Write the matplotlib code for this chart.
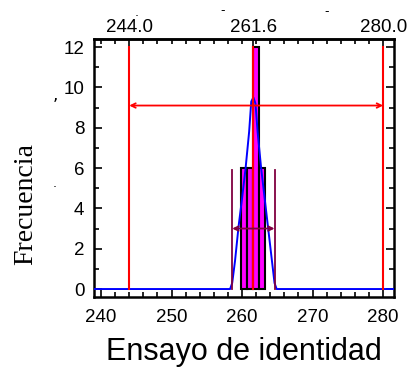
import matplotlib
matplotlib.use("Agg")
from matplotlib import pyplot as plt
from matplotlib.ticker import MultipleLocator, FixedLocator
import numpy as np

# Histogram bins (edges) and counts
bin_edges = [259.8, 260.65, 261.5, 262.4, 263.3]
counts = [6, 6, 12, 6]

# Fitted curve
curve_x = [239.0, 258.3, 258.6, 259.0, 259.5, 260.0, 260.5, 261.0, 261.3, 261.6,
           261.9, 262.2, 262.7, 263.2, 263.7, 264.2, 264.6, 264.9, 281.5]
curve_y = [0.0, 0.0, 0.3, 1.4, 3.1, 4.5, 6.0, 7.8, 9.3, 9.5,
           9.2, 7.8, 6.0, 4.5, 3.0, 1.5, 0.3, 0.0, 0.0]

# limits / centre (red) and interval (purple)
spec_low, spec_mid, spec_high = 244.0, 261.6, 280.0
spec_arrow_y = 9.1
ci_low, ci_high = 258.6, 264.6
ci_top = 5.9
ci_arrow_y = 3.0

top_labels = ["244.0", "261.6", "280.0"]

fig = plt.figure(figsize=(4.09, 3.71), dpi=100)
ax = fig.add_axes([0.2298, 0.2003, 0.7328, 0.6946])

ax.bar(bin_edges[:-1], counts, width=np.diff(bin_edges), align="edge",
       color="#ff00ff", edgecolor="black", linewidth=1.5, zorder=2)
ax.plot(curve_x, curve_y, color="#0000ff", lw=1.4, zorder=3)

for xv in [spec_low, spec_mid, spec_high]:
    ax.plot([xv, xv], [0, 12], color="#ff0000", lw=1.5, zorder=4)
ax.annotate("", xy=(spec_low, spec_arrow_y), xytext=(spec_high, spec_arrow_y),
            arrowprops=dict(arrowstyle="<->", color="#ff0000", lw=1.3,
                            mutation_scale=8, shrinkA=0, shrinkB=0), zorder=4)

purple = "#800040"
for xv in [ci_low, ci_high]:
    ax.plot([xv, xv], [0, ci_top], color=purple, lw=1.3, zorder=4)
ax.annotate("", xy=(ci_low, ci_arrow_y), xytext=(ci_high, ci_arrow_y),
            arrowprops=dict(arrowstyle="<->", color=purple, lw=1.3,
                            mutation_scale=8, shrinkA=0, shrinkB=0), zorder=5)

ax.set_xlim(239.0, 281.5)
ax.set_ylim(-0.38, 12.4)

tick_font = dict(family="Liberation Sans", size=13.5)
ax.xaxis.set_major_locator(MultipleLocator(10))
ax.xaxis.set_minor_locator(MultipleLocator(2))
ax.yaxis.set_major_locator(MultipleLocator(2))
ax.yaxis.set_minor_locator(MultipleLocator(1))
ax.tick_params(which="both", direction="in", right=True, width=1.2, color="black")
ax.tick_params(which="major", length=6)
ax.tick_params(which="minor", length=3.5)
ax.tick_params(axis="x", pad=9)
ax.tick_params(axis="y", pad=7)
for lab in ax.get_xticklabels() + ax.get_yticklabels():
    lab.set_fontfamily("Liberation Sans")
    lab.set_fontsize(13.5)

top = ax.secondary_xaxis("top")
top.xaxis.set_major_locator(FixedLocator([spec_low, spec_mid, spec_high]))
top.xaxis.set_minor_locator(MultipleLocator(2))
top.set_xticklabels(top_labels, **tick_font)
top.tick_params(which="both", direction="in", width=1.2, pad=2)
top.tick_params(which="major", length=6)
top.tick_params(which="minor", length=3.5)
top.spines["top"].set_linewidth(1.8)

for s in ax.spines.values():
    s.set_linewidth(1.8)

ax.set_xlabel("Ensayo de identidad", family="Liberation Sans", size=22)
ax.xaxis.set_label_coords(0.5, -0.155)
ax.set_ylabel("Frecuencia", family="Liberation Serif", size=20)
ax.yaxis.set_label_coords(-0.185, 0.36)

# small stray marks seen in the original
fig.text(137 / 409, 1 - 12 / 371, ".", size=9, ha="center", va="center")
fig.text(223 / 409, 1 - 11 / 371, "-", size=9, ha="center", va="center")
fig.text(327 / 409, 1 - 12 / 371, "-", size=9, ha="center", va="center")
fig.text(55 / 409, 1 - 95 / 371, ",", size=12, ha="center", va="center")
fig.text(55 / 409, 1 - 183 / 371, ".", size=9, ha="center", va="center")

fig.savefig("out.png", dpi=100)
